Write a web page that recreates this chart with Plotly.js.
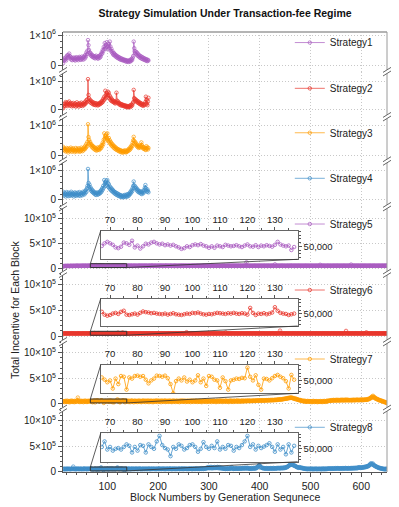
<!DOCTYPE html>
<html>
<head>
<meta charset="utf-8">
<script src="https://cdn.plot.ly/plotly-3.0.1.min.js"></script>
<style>body{margin:0;background:#fff}</style>
</head>
<body>
<div id="chart" style="width:399px;height:507px"></div>
<script>
// values are in thousands, one per block, first block is 13
const FIRST_BLOCK = 13;
const UNIT = 1000;
const names = ['Strategy1','Strategy2','Strategy3','Strategy4','Strategy5','Strategy6','Strategy7','Strategy8'];
const colors = ['#a95cc0','#e8352b','#ff9c00','#3f8ec8','#a95cc0','#e8352b','#ff9c00','#3f8ec8'];

// strategies 1-4: blocks 13..181
const strategy1 = [
  60,140,210,170,240,190,150,280,320,250,
  330,260,380,300,220,270,180,240,160,220,
  190,250,170,230,150,210,260,180,240,200,
  160,230,270,190,250,170,220,280,200,240,
  180,260,300,220,340,280,420,360,480,830,
  660,500,420,360,400,310,350,280,320,260,
  300,240,290,220,270,310,250,230,280,210,
  260,300,240,330,280,360,420,380,500,460,
  600,530,730,620,560,680,760,600,520,640,
  700,560,780,620,480,540,420,460,380,340,
  400,320,360,290,330,260,300,240,280,220,
  260,200,240,180,220,170,210,160,190,150,
  180,140,170,120,160,110,150,130,100,140,
  120,160,110,180,140,200,170,240,300,780,
  560,460,400,450,360,420,320,380,300,340,
  260,310,240,290,220,270,200,250,190,230,
  170,210,160,200,140,180,130,170,150];
const strategy2 = [
  60,120,200,150,230,280,180,250,140,210,
  260,170,300,220,150,240,190,130,220,170,
  250,140,200,160,230,120,190,270,150,210,
  180,120,240,170,210,150,260,190,140,230,
  200,170,260,210,300,240,350,290,380,1090,
  530,420,300,360,260,320,240,290,210,270,
  230,180,250,200,170,240,190,220,160,210,
  180,240,200,260,220,290,250,330,280,400,
  340,470,380,680,520,440,600,480,650,540,
  610,420,500,360,440,320,380,300,340,280,
  310,250,290,230,270,610,330,260,300,220,
  250,190,230,170,210,160,200,150,180,140,
  170,130,160,110,150,100,140,120,90,130,
  110,150,100,170,130,190,160,230,280,710,
  420,390,330,370,300,340,270,310,250,290,
  220,260,200,240,180,220,160,200,150,190,
  170,210,280,470,360,220,170,300,430];
const strategy3 = [
  280,180,230,150,200,120,170,240,140,210,
  90,160,220,130,190,250,150,110,200,170,
  230,140,190,100,160,240,130,180,210,120,
  170,230,150,110,190,140,250,180,130,220,
  160,210,270,200,320,250,380,300,450,1050,
  610,520,400,450,340,380,290,330,250,300,
  220,270,190,240,170,220,150,200,260,180,
  230,170,260,210,290,240,340,300,420,370,
  520,740,560,640,500,700,600,740,540,480,
  580,430,500,380,440,330,390,300,350,260,
  310,230,280,200,250,180,220,160,200,140,
  180,120,170,110,150,90,140,120,80,130,
  110,160,100,140,90,130,110,170,140,200,
  160,230,190,280,240,330,300,420,500,620,
  480,400,440,350,390,300,340,270,310,240,
  280,330,260,300,430,340,280,230,270,210,
  250,190,230,170,300,220,260,190,240];
const strategy4 = [
  280,200,150,240,180,120,220,270,160,210,
  130,250,190,140,230,170,280,200,150,240,
  180,120,210,260,160,230,140,190,250,170,
  220,150,270,200,140,240,180,230,160,280,
  210,250,190,300,240,340,280,400,480,1060,
  580,460,520,380,430,320,370,280,330,250,
  290,220,260,190,240,170,220,260,180,230,
  200,260,220,300,250,340,290,400,350,480,
  420,680,540,600,480,660,520,680,590,450,
  540,400,460,360,420,320,380,290,340,260,
  300,230,270,200,250,180,230,160,210,140,
  190,130,170,110,160,100,140,120,90,150,
  120,170,100,150,130,190,110,160,200,140,
  180,240,200,290,250,340,300,410,480,630,
  500,420,460,380,410,330,370,290,330,260,
  300,250,290,220,270,200,250,310,230,280,
  350,420,510,400,330,280,360,300,260];

// strategies 5-8: blocks 13..66, zoomed blocks 67..137, blocks 138..651
const strategy5Head = [
  40,45,42,48,44,50,46,43,49,45,51,47,44,50,46,48,52,45,49,47,
  50,46,53,48,45,51,49,54,47,50,52,46,49,53,48,51,47,50,55,49,
  52,48,51,54,49,50,53,47,52,50,55,49,51,48];
const strategy5Zoom = [
  51,58,62,58,54,47,45,49,60,58,
  54,65,47,52,44,50,57,55,60,62,
  58,55,57,53,55,52,54,50,47,43,
  45,50,48,53,55,53,56,52,50,46,
  50,46,52,50,48,54,52,50,51,53,
  50,48,52,55,50,49,53,48,52,50,
  53,51,49,54,62,55,52,50,52,40,
  48];
const strategy5Tail = [
  50,46,52,55,49,53,47,51,56,50,48,54,52,47,50,55,51,49,53,48,
  52,50,46,54,51,57,49,52,48,53,50,55,47,51,54,49,52,50,56,48,
  51,53,47,50,55,52,49,54,48,51,60,50,47,53,49,52,55,48,50,53,
  49,51,54,47,52,50,56,48,53,51,49,55,50,47,52,54,49,51,57,50,
  48,53,51,46,52,55,49,50,54,48,52,50,47,53,51,56,49,52,48,50,
  54,51,47,52,50,55,48,53,49,51,58,50,47,52,54,49,51,53,48,50,
  52,49,55,51,47,53,50,48,54,52,49,51,56,48,50,53,47,52,50,55,
  49,51,53,48,52,50,46,54,51,49,53,50,57,48,52,50,49,54,51,47,
  52,50,55,48,51,53,49,50,65,52,48,51,54,49,50,53,47,52,55,50,
  48,51,53,49,52,50,47,54,51,49,52,56,48,50,53,51,47,52,50,54,
  49,51,52,48,55,50,47,53,51,49,52,50,54,48,51,53,50,47,52,55,
  50,48,53,51,49,52,54,47,50,53,51,48,52,56,49,50,120,52,48,51,
  53,49,51,50,54,48,52,50,47,53,51,49,55,50,52,48,51,53,49,50,
  52,54,48,51,50,53,49,52,47,51,55,50,48,53,51,49,52,50,54,48,
  51,53,49,50,52,48,55,51,49,53,50,52,80,48,51,53,49,50,52,54,
  48,51,50,53,49,52,55,48,50,53,51,49,52,50,47,54,51,49,53,50,
  52,48,51,56,49,53,50,52,48,51,54,49,50,53,51,48,52,50,55,49,
  51,53,48,50,52,49,54,51,47,52,50,53,49,51,55,48,50,52,49,53,
  50,48,52,51,54,49,50,53,47,52,51,49,55,50,48,52,51,53,49,50,
  52,70,49,51,53,48,50,52,54,49,51,50,47,53,52,49,51,55,48,50,
  53,49,51,52,48,50,54,51,49,53,50,52,48,51,56,49,50,52,53,48,
  51,50,54,49,52,48,53,51,50,55,49,52,48,51,53,50,49,52,54,48,
  51,53,75,50,49,52,48,54,51,50,53,49,52,48,55,51,50,49,53,52,
  48,51,54,50,49,52,53,48,51,50,55,49,52,50,48,53,51,49,52,54,
  50,48,53,51,49,52,50,55,48,51,53,49,50,52,48,54,51,49,53,50,
  52,48,51,54,49,50,53,51,48,52,50,55,49,52];

const strategy6Head = [
  48,52,47,50,53,49,51,46,54,50,48,52,49,53,47,51,50,55,48,52,
  50,47,53,49,51,48,52,50,46,54,49,51,53,48,50,52,47,51,49,53,
  51,48,52,50,54,49,47,52,50,53,48,51,49,52];
const strategy6Zoom = [
  55,47,44,46,50,52,49,55,58,47,
  46,48,50,47,52,56,54,53,51,52,
  50,49,48,50,47,49,51,48,47,46,
  48,50,49,52,51,53,50,48,47,49,
  48,50,52,51,50,49,51,50,52,50,
  49,51,50,47,66,52,46,50,49,51,
  48,50,53,68,58,52,50,49,46,48,
  50];
const strategy6Tail = [
  52,49,51,48,53,50,47,52,51,49,54,50,48,52,50,53,49,51,47,52,
  50,53,48,51,49,52,50,47,54,51,49,52,48,50,53,51,49,52,50,48,
  53,50,49,52,51,47,54,50,48,52,49,51,53,50,48,51,52,49,50,54,
  48,51,50,53,49,52,47,51,50,54,49,52,48,50,53,51,49,52,50,47,
  52,50,54,48,51,49,53,50,52,47,51,50,53,49,52,48,50,54,51,49,
  50,52,48,53,51,49,52,50,47,54,51,48,52,50,49,53,51,50,75,52,
  49,51,53,48,50,52,49,54,51,47,52,50,53,49,51,48,52,50,53,49,
  51,50,47,53,52,49,51,48,54,50,52,49,51,53,48,50,52,47,51,50,
  53,49,52,50,48,51,54,50,49,52,51,47,53,50,52,49,51,48,50,53,
  49,52,50,51,48,53,50,49,52,47,51,54,50,49,52,70,51,48,50,53,
  49,51,52,48,50,53,47,52,51,49,54,50,52,48,51,50,53,49,52,50,
  48,51,53,50,49,52,47,54,51,50,52,49,53,48,51,50,52,49,51,53,
  50,48,52,51,49,53,50,47,52,51,54,49,50,52,48,53,51,50,49,52,
  51,53,48,50,52,49,51,54,50,48,52,51,49,53,50,47,52,51,50,49,
  52,50,53,49,51,48,52,50,54,49,51,52,48,50,53,51,49,52,50,51,
  49,52,106,50,48,53,51,49,52,50,54,48,51,52,50,49,53,51,48,52,
  50,53,49,51,52,48,50,54,51,49,52,50,53,48,51,49,52,50,51,53,
  48,50,52,51,49,53,50,47,52,51,54,49,50,52,48,51,53,50,49,52,
  51,49,53,50,48,52,51,50,54,49,52,48,51,53,50,49,52,51,48,50,
  53,51,49,52,50,48,54,51,49,52,50,53,48,51,50,52,49,53,51,50,
  48,52,51,49,53,50,52,48,51,54,50,49,52,51,48,50,53,49,52,50,
  51,49,52,50,53,48,51,50,52,49,54,51,100,50,48,52,51,49,53,50,
  52,48,51,50,53,49,52,51,48,50,54,49,52,50,51,53,48,50,52,49,
  51,53,50,48,52,49,51,50,54,48,51,52,72,50,49,53,51,48,52,50,
  49,52,51,50,53,48,51,49,52,50,54,49,51,52,48,50,53,51,49,52,
  50,48,52,51,49,53,50,52,48,51,50,54,49,51];

const strategy7Head = [
  45,38,52,30,48,55,35,42,60,40,33,50,46,28,55,44,38,62,41,36,
  50,47,30,58,43,35,52,40,65,120,48,38,55,32,46,60,42,36,53,45,
  30,57,44,38,62,40,48,33,55,46,39,60,42,50];
const strategy7Zoom = [
  58,52,45,50,28,55,40,62,60,25,
  58,55,62,63,60,62,52,42,50,55,
  63,62,60,63,56,40,15,48,55,50,
  58,47,52,45,50,64,45,55,35,62,
  60,52,50,30,58,48,25,50,52,55,
  54,57,56,85,60,50,64,38,25,55,
  54,50,56,62,65,60,56,48,28,65,
  52];
const strategy7Tail = [
  48,62,40,55,35,58,46,30,60,52,38,65,44,50,28,56,42,61,37,53,
  45,32,59,48,40,63,36,54,47,30,58,43,50,66,39,45,55,33,60,42,
  52,38,64,46,31,57,49,40,62,35,54,47,29,60,44,52,37,58,41,66,
  50,34,56,43,61,38,47,55,30,63,45,52,36,59,42,48,65,33,54,46,
  39,60,51,35,57,44,62,40,49,31,58,53,37,64,45,50,34,56,42,61,
  47,36,55,50,30,62,43,58,39,52,66,35,48,57,41,60,33,54,46,38,
  63,49,36,55,42,59,31,51,64,40,47,57,35,60,44,52,38,65,43,50,
  34,58,47,41,62,36,53,49,30,61,45,56,39,52,67,42,48,35,59,46,
  40,63,51,37,55,44,60,33,50,58,42,47,64,38,53,45,31,57,49,62,
  41,36,59,52,44,66,39,48,55,34,61,46,51,40,58,43,63,37,50,54,
  45,32,60,48,56,41,64,38,52,47,35,62,44,55,50,39,58,42,66,46,
  53,37,61,49,43,57,52,40,65,46,55,48,60,44,58,51,63,47,56,62,
  50,59,54,62,48,58,55,52,63,57,60,50,64,58,54,62,60,66,56,62,
  64,59,62,68,55,66,62,70,60,64,58,68,64,66,61,70,66,68,63,72,
  66,70,64,74,68,72,66,76,70,68,74,70,78,70,76,72,80,74,82,78,
  84,78,82,88,80,86,84,92,86,95,90,98,94,102,96,105,100,110,104,115,
  108,118,112,122,115,118,110,115,105,98,108,95,90,100,85,92,78,84,72,78,
  70,64,72,58,66,52,60,48,55,45,60,40,52,35,48,42,55,38,50,45,
  40,52,35,48,44,30,50,38,55,42,33,47,40,52,36,45,30,50,42,38,
  48,35,52,40,45,32,50,43,38,55,41,47,35,53,44,60,48,56,52,62,
  58,65,55,70,60,66,62,75,64,70,58,72,66,63,78,68,60,74,65,70,
  62,76,68,64,80,70,66,73,61,78,69,75,63,82,71,67,77,64,72,68,
  72,66,74,70,62,76,70,78,68,74,64,76,70,80,74,69,78,72,66,76,
  78,70,76,84,72,68,80,74,78,72,86,76,82,74,90,80,88,98,92,108,
  105,125,115,140,125,155,130,135,112,120,98,105,90,95,80,86,72,76,62,68,
  58,62,50,55,42,48,35,40,30,32,22,25,15,10];

const strategy8Head = [
  55,48,60,52,45,58,50,62,47,55,53,60,49,57,51,46,59,54,62,50,
  100,56,48,61,53,45,58,52,64,49,55,60,47,57,51,63,50,54,46,59,
  52,65,48,56,61,50,58,45,63,54,49,60,57,52];
const strategy8Zoom = [
  55,70,48,55,45,50,52,48,55,62,
  58,40,55,45,60,58,40,62,55,50,
  70,85,60,52,48,30,55,50,62,58,
  48,52,60,62,55,42,50,68,55,50,
  58,52,70,48,55,50,60,58,45,55,
  52,60,70,85,55,62,48,58,52,56,
  60,65,55,42,62,48,55,35,62,40,
  58];
const strategy8Tail = [
  55,62,48,58,52,65,50,57,46,60,54,63,49,58,52,61,47,56,64,51,
  57,50,62,48,59,53,66,51,56,45,60,54,49,63,52,58,47,61,55,50,
  62,48,57,53,65,50,58,46,61,55,52,64,49,57,60,51,56,47,63,54,
  50,59,53,66,48,57,61,52,55,49,64,58,51,56,62,47,60,54,50,58,
  63,52,57,49,61,55,66,51,58,47,60,53,64,50,56,62,48,59,55,52,
  60,50,57,65,53,49,62,56,51,59,67,48,55,61,52,58,64,50,57,53,
  61,49,56,63,52,58,66,51,55,60,48,64,57,53,62,50,59,68,54,56,
  52,63,58,50,66,55,60,53,70,57,62,51,68,59,64,56,72,60,75,82,
  68,90,72,85,66,78,95,70,80,64,88,73,76,92,68,82,74,86,70,95,
  78,84,65,90,72,68,80,62,75,58,70,64,55,67,60,52,63,58,66,54,
  60,70,55,65,58,72,62,90,66,58,64,53,68,60,56,70,62,57,65,59,
  63,55,68,60,72,57,64,70,58,75,62,67,73,60,78,65,70,62,80,68,
  64,56,70,58,66,54,72,60,68,57,75,62,70,58,78,66,85,74,92,105,
  118,130,122,105,92,85,78,72,68,75,64,70,60,66,58,72,62,68,56,64,
  70,60,66,58,72,62,68,56,64,74,60,66,70,58,64,72,62,68,76,70,
  66,74,62,70,78,68,74,64,80,72,78,70,86,76,82,92,88,98,106,115,
  122,132,128,142,136,150,140,135,128,120,124,112,116,102,98,88,92,80,84,74,
  90,78,84,72,80,68,75,62,70,58,66,55,64,52,60,50,62,48,58,55,
  52,60,47,56,62,50,58,45,60,53,49,57,62,48,55,59,46,54,60,51,
  57,49,61,53,46,58,64,50,55,60,47,62,54,58,50,63,56,60,66,58,
  62,56,60,66,58,64,55,68,60,57,63,70,58,64,66,60,72,62,58,66,
  64,58,70,62,66,56,72,64,60,68,62,74,66,58,70,64,60,72,66,62,
  68,60,74,64,70,62,76,66,72,64,78,68,74,66,80,70,84,76,88,82,
  80,72,84,76,88,78,90,82,94,86,98,90,104,96,110,102,118,112,128,140,
  158,145,165,150,140,160,130,120,125,108,112,96,100,88,90,78,82,70,76,64,
  70,60,66,55,62,50,58,48,55,45,52,60,48,56];

const seriesValues = [
  strategy1, strategy2, strategy3, strategy4,
  strategy5Head.concat(strategy5Zoom, strategy5Tail),
  strategy6Head.concat(strategy6Zoom, strategy6Tail),
  strategy7Head.concat(strategy7Zoom, strategy7Tail),
  strategy8Head.concat(strategy8Zoom, strategy8Tail)
];

const zoomBlocks = [66.6, 138.3];
const zoomValues = [15000, 92000];

// axis ticks
const smallTickVals = [0, 1e6];
const smallTickText = ['0', '1×10<sup>6</sup>'];
const bigTickVals = [0, 5e5, 1e6];
const bigTickText = ['0', '5×10<sup>5</sup>', '10×10<sup>5</sup>'];

// layout geometry
const FONT = 'Liberation Sans, Arial, Helvetica, sans-serif';
const PW = 324, PH = 440;
const xRange = [12.8, 650.6];
const panelDomains = [[0.9098,1],[0.8075,0.9098],[0.7068,0.8075],[0.6030,0.7068],
                      [0.4516,0.6030],[0.2961,0.4516],[0.1425,0.2961],[0,0.1425]];
const panelRanges = [[-0.223e6,1.10e6],[-0.237e6,1.353e6],[-0.205e6,1.307e6],[-0.229e6,1.331e6],
                     [-0.10e6,1.232e6],[-0.112e6,1.229e6],[-0.11e6,1.216e6],[-0.006e6,1.224e6]];
const insetX = [0.1164, 0.7244];
const insetDomains = [[0.4834,0.5484],[0.3318,0.3939],[0.1789,0.2432],[0.0234,0.0880]];
const legendY = [0.976, 0.872, 0.771, 0.6675, 0.5636, 0.4136, 0.2568, 0.1016];
const GRID = '#c8c8c8';

const yName = i => i === 0 ? 'y' : 'y' + (i + 1);
const yKey = i => i === 0 ? 'yaxis' : 'yaxis' + (i + 1);
const legName = i => i === 0 ? 'legend' : 'legend' + (i + 1);

const data = [];
seriesValues.forEach((vals, i) => {
  data.push({
    x: vals.map((v, k) => FIRST_BLOCK + k),
    y: vals.map(v => v * UNIT),
    xaxis: 'x', yaxis: yName(i),
    name: names[i], legend: legName(i),
    type: 'scatter', mode: 'lines+markers',
    line: {color: colors[i], width: 0.7},
    marker: {symbol: 'circle-open', size: 3.5, color: colors[i], line: {width: 0.7}}
  });
});
for (let j = 0; j < 4; j++) {
  const i = j + 4;
  const xs = [], ys = [];
  seriesValues[i].forEach((v, k) => {
    const b = FIRST_BLOCK + k;
    if (b >= 67 && b <= 137) { xs.push(b); ys.push(v * UNIT); }
  });
  data.push({
    x: xs, y: ys, xaxis: 'x' + (j + 2), yaxis: 'y' + (j + 9),
    showlegend: false, type: 'scatter', mode: 'lines+markers',
    line: {color: colors[i], width: 0.8},
    marker: {symbol: 'circle-open', size: 3.5, color: colors[i], line: {width: 0.8}}
  });
}

const layout = {
  width: 399, height: 507,
  margin: {l: 63, r: 12, t: 32, b: 35},
  paper_bgcolor: '#fff', plot_bgcolor: '#fff',
  font: {family: FONT, size: 10, color: '#222'},
  title: {text: '<b>Strategy Simulation Under Transaction-fee Regime</b>',
          font: {size: 10.5, color: '#111'}, xref: 'paper', x: 0.5, xanchor: 'center',
          yref: 'container', y: 0.974, yanchor: 'middle'},
  xaxis: {
    domain: [0, 1], range: xRange, anchor: 'y8',
    tick0: 0, dtick: 100, ticks: 'outside', ticklen: 4, tickcolor: '#555',
    showline: true, linecolor: '#555', zeroline: false,
    showgrid: true, gridcolor: GRID, griddash: '1px,2px',
    minor: {dtick: 20, tick0: 0, ticks: 'outside', ticklen: 2, tickcolor: '#555', showgrid: false},
    tickfont: {size: 10.5}
  },
  annotations: [
    {text: 'Block Numbers by Generation Sequnece', xref: 'paper', yref: 'paper',
     x: 0.5, y: (472 - 496.7) / PH, xanchor: 'center', yanchor: 'middle', showarrow: false,
     font: {size: 10.5}},
    {text: 'Total Incentive for Each Block', xref: 'paper', yref: 'paper',
     x: (15 - 63) / PW, y: 0.368, textangle: -90, xanchor: 'center', yanchor: 'middle',
     showarrow: false, font: {size: 10.5}}
  ],
  shapes: [],
  showlegend: true
};

for (let i = 0; i < 8; i++) {
  const small = i < 4;
  layout[yKey(i)] = {
    domain: panelDomains[i], range: panelRanges[i], anchor: 'x',
    tickmode: 'array', tickvals: small ? smallTickVals : bigTickVals,
    ticktext: small ? smallTickText : bigTickText,
    ticks: 'outside', ticklen: 4, tickcolor: '#555',
    minor: {dtick: small ? 2e5 : 1e5, tick0: 0, ticks: 'outside', ticklen: 2, tickcolor: '#555', showgrid: false},
    showline: true, linecolor: '#555', zeroline: false,
    showgrid: true, gridcolor: GRID, griddash: '1px,2px',
    tickfont: {size: 10}
  };
  layout[legName(i)] = {
    x: 0.70, xanchor: 'left', y: legendY[i], yanchor: 'middle',
    bgcolor: 'rgba(0,0,0,0)', borderwidth: 0, font: {size: 10}
  };
}

for (let j = 0; j < 4; j++) {
  layout['xaxis' + (j + 2)] = {
    domain: insetX, range: zoomBlocks, anchor: 'y' + (j + 9), side: 'top',
    tick0: 0, dtick: 10, ticks: 'outside', ticklen: 3, tickcolor: '#555',
    minor: {dtick: 5, tick0: 0, ticks: 'outside', ticklen: 2, tickcolor: '#555', showgrid: false},
    showline: true, mirror: true, linecolor: '#666', showgrid: false, zeroline: false,
    tickfont: {size: 9.5}
  };
  layout['yaxis' + (j + 9)] = {
    domain: insetDomains[j], range: zoomValues, anchor: 'x' + (j + 2), side: 'right',
    tickmode: 'array', tickvals: [50000], ticktext: ['50,000'],
    ticks: 'outside', ticklen: 3, tickcolor: '#555',
    minor: {dtick: 10000, tick0: 0, ticks: 'outside', ticklen: 2, tickcolor: '#555', showgrid: false},
    showline: true, mirror: true, linecolor: '#666', showgrid: false, zeroline: false,
    tickfont: {size: 9.5}
  };
}

// frame: light top and right edges
layout.shapes.push({type: 'line', xref: 'paper', yref: 'paper', x0: 0, x1: 1, y0: 1, y1: 1,
                    line: {color: '#b4b4b4', width: 2}});
layout.shapes.push({type: 'line', xref: 'paper', yref: 'paper', x0: 1, x1: 1, y0: 0, y1: 1,
                    line: {color: '#9a9a9a', width: 1}});

// axis break marks between panels
const dx = px => px / PW, dy = px => px / PH;
for (let i = 1; i < 8; i++) {
  const b = panelDomains[i][1];
  [0, 1].forEach(xp => {
    layout.shapes.push({type: 'line', xref: 'paper', yref: 'paper', x0: xp, x1: xp,
                        y0: b - dy(1.8), y1: b + dy(1.8), line: {color: '#fff', width: 4}});
    [-1.8, 1.8].forEach(off => {
      layout.shapes.push({type: 'line', xref: 'paper', yref: 'paper',
                          x0: xp - dx(4), x1: xp + dx(4),
                          y0: b + dy(off) - dy(2.5), y1: b + dy(off) + dy(2.5),
                          line: {color: '#666', width: 1}});
    });
  });
}

// zoom markers for strategies 5-8
const toPx = x => (x - xRange[0]) / (xRange[1] - xRange[0]);
const toPy = (v, i) => panelDomains[i][0] +
  (v - panelRanges[i][0]) / (panelRanges[i][1] - panelRanges[i][0]) * (panelDomains[i][1] - panelDomains[i][0]);
for (let j = 0; j < 4; j++) {
  const i = j + 4;
  const rx0 = toPx(zoomBlocks[0]), rx1 = toPx(zoomBlocks[1]);
  const ry0 = toPy(zoomValues[0], i), ry1 = toPy(zoomValues[1], i);
  layout.shapes.push({type: 'rect', xref: 'paper', yref: 'paper', x0: rx0, x1: rx1, y0: ry0, y1: ry1,
                      line: {color: '#333', width: 1}});
  layout.shapes.push({type: 'line', xref: 'paper', yref: 'paper',
                      x0: insetX[0], y0: insetDomains[j][1], x1: rx0, y1: ry1,
                      line: {color: '#333', width: 0.8}});
  layout.shapes.push({type: 'line', xref: 'paper', yref: 'paper',
                      x0: insetX[1], y0: insetDomains[j][0], x1: rx1, y1: ry0,
                      line: {color: '#333', width: 0.8}});
}

Plotly.newPlot('chart', data, layout, {displayModeBar: false, staticPlot: true});
</script>
</body>
</html>
